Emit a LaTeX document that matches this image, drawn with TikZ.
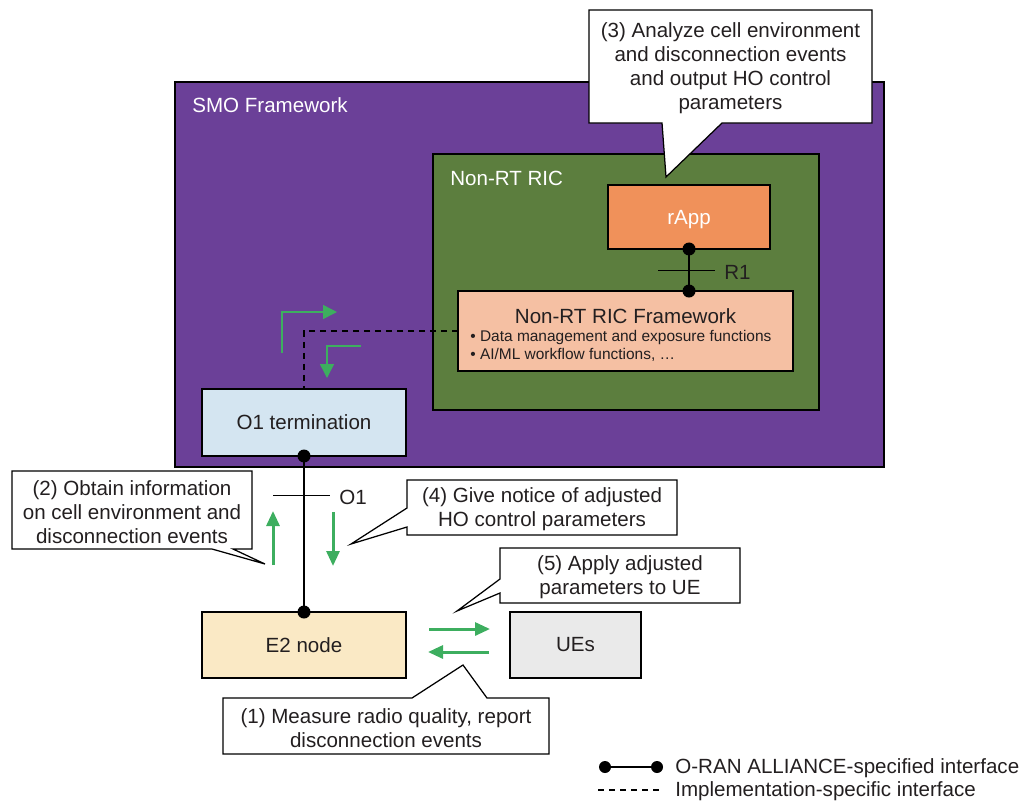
\documentclass[tikz,border=0pt]{standalone}
\usepackage{fontspec}
\setmainfont{Liberation Sans}
\usetikzlibrary{arrows.meta,calc}
\definecolor{smopurple}{HTML}{6B4098}
\definecolor{ricgreen}{HTML}{5C7E3E}
\definecolor{rappfill}{HTML}{F0915A}
\definecolor{fwfill}{HTML}{F5C0A3}
\definecolor{o1fill}{HTML}{D4E5F1}
\definecolor{e2fill}{HTML}{FAE9C5}
\definecolor{uefill}{HTML}{EAEAEA}
\definecolor{flowgreen}{HTML}{3DAE5F}
\definecolor{txt}{HTML}{231F20}
\tikzset{
  box/.style={draw=black, line width=0.03cm, inner sep=0pt, outer sep=0pt, text=txt,
    font=\fontsize{11.7}{13.6}\selectfont},
  callout/.style={draw=black, fill=white, line width=0.025cm, line join=miter},
  calltext/.style={align=center, text=txt, font=\fontsize{11.7}{13.66}\selectfont, inner sep=0pt},
  iface/.style={line width=0.04cm, black},
  impl/.style={line width=0.035cm, black, dash pattern=on 0.12cm off 0.1cm},
  tick/.style={line width=0.02cm, black},
  flow/.style={flowgreen, line width=0.06cm, -{Triangle[length=0.3cm,width=0.26cm]}},
  flowthin/.style={flowgreen, line width=0.03cm, -{Triangle[length=0.28cm,width=0.28cm]}},
  plain/.style={text=txt, font=\fontsize{11.7}{13.6}\selectfont, inner sep=0pt},
  dotr/.store in=\dotr, dotr=0.13cm,
}
\begin{document}
\begin{tikzpicture}[x=0.02cm, y=-0.02cm]
\useasboundingbox (0,0) rectangle (1023,801);

% SMO framework and Non-RT RIC containers
\node[box, fill=smopurple, minimum width=14.18cm, minimum height=7.7cm] (smo) at (529.5,274.5) {};
\node[plain, text=white, anchor=west] (smolbl) at (192,105) {SMO Framework};
\node[box, fill=ricgreen, minimum width=7.72cm, minimum height=5.12cm] (ric) at (626,282) {};
\node[plain, text=white, anchor=west] (riclbl) at (450,178) {Non-RT RIC};

% functional blocks
\node[box, fill=rappfill, minimum width=3.24cm, minimum height=1.28cm] (rapp) at (689,217) {};
\node[plain, text=white] (rapplbl) at (689,220) {rApp};
\node[box, fill=fwfill, minimum width=6.7cm, minimum height=1.6cm] (fw) at (625.5,331) {};
\node[plain] (fwtitle) at (625.5,316) {Non-RT RIC Framework};
\node[plain, anchor=west, align=left, font=\fontsize{8.8}{10.3}\selectfont] (fwlist) at (470,346)
  {\textbullet\ Data management and exposure functions\\\textbullet\ AI/ML workflow functions, \dots};
\node[box, fill=o1fill, minimum width=4.08cm, minimum height=1.34cm] (o1) at (304,422.5) {O1 termination};
\node[box, fill=e2fill, minimum width=4.08cm, minimum height=1.32cm] (e2) at (304,645) {E2 node};
\node[box, fill=uefill, minimum width=2.62cm, minimum height=1.32cm] (ue) at (575.5,645) {UEs};

% R1 interface
\coordinate (r1bot) at (rapp.south |- fw.north);
\draw[iface] (rapp.south) -- (r1bot);
\fill (rapp.south) circle (\dotr);
\fill (r1bot) circle (\dotr);
\draw[tick] (658,270) -- (715,270);
\node[plain, anchor=west] (r1lbl) at (724,272) {R1};

% O1 interface
\draw[iface] (o1.south) -- (e2.north);
\fill (o1.south) circle (\dotr);
\fill (e2.north) circle (\dotr);
\draw[tick] (273,495) -- (330,495);
\node[plain, anchor=west] (o1lbl) at (339,497) {O1};

% implementation-specific link
\draw[impl] (fw.west) -| (o1.north);

% information flows
\draw[flowthin] (282,353) |- (337,312);
\draw[flowthin] (361,346) -| (327,378);
\draw[flow] (273,565) -- (273,511);
\draw[flow] (333,512) -- (333,566);
\draw[flow] (429,629) -- (490,629);
\draw[flow] (489,652) -- (428,652);

% callouts
\draw[callout] (589,10) -- (872,10) -- (872,123) -- (722,123) -- (666,177) -- (662,123) -- (589,123) -- cycle;
\node[calltext] (c3) at (730.5,68.5) {(3) Analyze cell environment\\and disconnection events\\and output HO control\\parameters};

\draw[callout] (12,471) -- (252,471) -- (252,549) -- (233,549) -- (265,564) -- (212,549) -- (12,549) -- cycle;
\node[calltext] (c2) at (132,512) {(2) Obtain information\\on cell environment and\\disconnection events};

\draw[callout] (407,480) -- (677,480) -- (677,535) -- (407,535) -- (407,527) -- (351,544) -- (407,508) -- cycle;
\node[calltext] (c4) at (542,509.5) {(4) Give notice of adjusted\\HO control parameters};

\draw[callout] (500,548) -- (740,548) -- (740,603) -- (500,603) -- (500,593) -- (457,611) -- (500,579) -- cycle;
\node[calltext] (c5) at (620,577.5) {(5) Apply adjusted\\parameters to UE};

\draw[callout] (223,698) -- (412,698) -- (463,665) -- (487,698) -- (549,698) -- (549,754) -- (223,754) -- cycle;
\node[calltext] (c1) at (386,728.5) {(1) Measure radio quality, report\\disconnection events};

% legend
\coordinate (lg1a) at (605,767);
\coordinate (lg1b) at (657,767);
\draw[iface] (lg1a) -- (lg1b);
\fill (lg1a) circle (0.12cm);
\fill (lg1b) circle (0.12cm);
\node[plain, anchor=west] (lg1) at (675,768) {O-RAN ALLIANCE-specified interface};
\coordinate (lg2a) at (598,790);
\coordinate (lg2b) at (661,790);
\draw[impl, line width=0.025cm] (lg2a) -- (lg2b);
\node[plain, anchor=west] (lg2) at (675,791) {Implementation-specific interface};
\end{tikzpicture}
\end{document}
